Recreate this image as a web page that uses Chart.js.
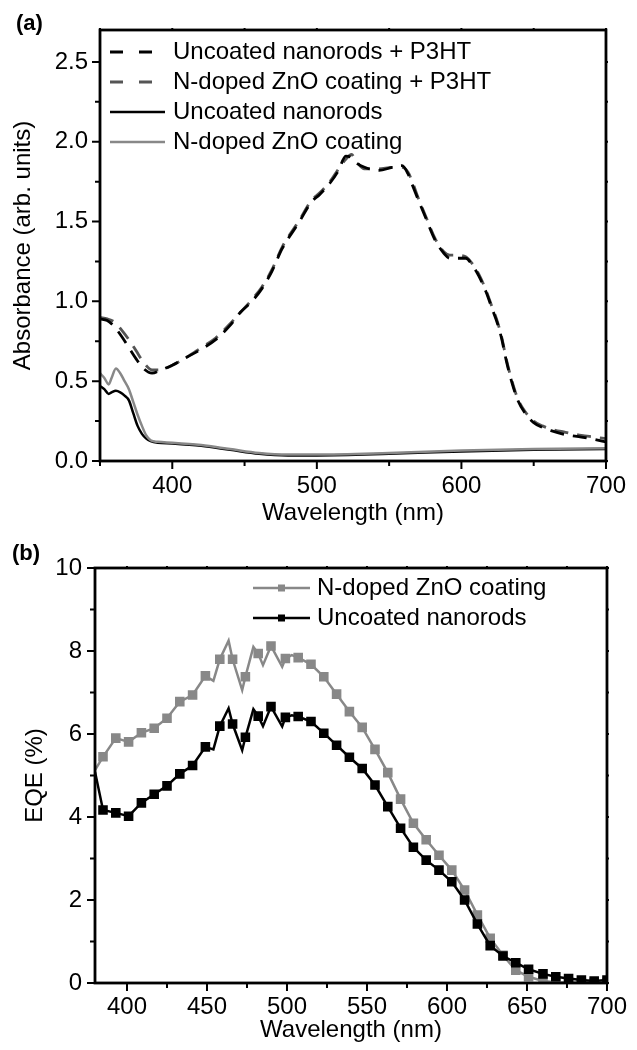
<!DOCTYPE html>
<html>
<head>
<meta charset="utf-8">
<script src="https://cdn.jsdelivr.net/npm/chart.js@4"></script>
<style>
body { margin: 0; background: #fff; font-family: "Liberation Sans", Arial, sans-serif; }
.wrap { position: relative; width: 637px; height: 1050px; }
.panel { position: absolute; left: 0; width: 637px; height: 525px; }
.tag { position: absolute; font-weight: bold; font-size: 22px; color: #000; }
</style>
</head>
<body>
<div class="wrap">
  <div class="panel" style="top:0"><canvas id="absChart" width="637" height="525"></canvas></div>
  <div class="panel" style="top:525px"><canvas id="eqeChart" width="637" height="525"></canvas></div>
  <div class="tag" style="left:16px; top:10px">(a)</div>
  <div class="tag" style="left:12px; top:540px">(b)</div>
</div>
<script>
// (a) absorbance, dashed curves (with P3HT)
const dashWl = [350, 355, 360, 365, 370, 375, 380, 386, 392, 400, 410, 420, 430, 440, 447, 455, 462, 469, 476, 488,
  496, 502, 509, 515, 520, 524, 527, 533, 543, 552, 559, 563, 566, 570, 575, 582, 588, 592, 596, 603,
  608, 612, 617, 621, 625, 628, 631, 635, 639, 644, 650, 656, 662, 672, 683, 692, 700];
const uncoatedP3HT = [0.89, 0.88, 0.84, 0.78, 0.71, 0.64, 0.58, 0.55, 0.57, 0.60, 0.65, 0.70, 0.76, 0.85, 0.93, 1.00, 1.08, 1.19, 1.33, 1.50,
  1.62, 1.67, 1.74, 1.82, 1.91, 1.90, 1.87, 1.84, 1.82, 1.84, 1.85, 1.80, 1.73, 1.64, 1.53, 1.38, 1.30, 1.27, 1.27, 1.27,
  1.22, 1.16, 1.06, 0.96, 0.86, 0.76, 0.63, 0.49, 0.38, 0.30, 0.24, 0.21, 0.19, 0.165, 0.15, 0.135, 0.12];
const dopedP3HT = [0.90, 0.89, 0.87, 0.82, 0.76, 0.69, 0.62, 0.57, 0.57, 0.60, 0.65, 0.71, 0.77, 0.86, 0.93, 1.01, 1.09, 1.20, 1.34, 1.51,
  1.63, 1.68, 1.75, 1.83, 1.89, 1.92, 1.88, 1.83, 1.83, 1.84, 1.84, 1.81, 1.75, 1.65, 1.54, 1.39, 1.31, 1.29, 1.29, 1.28,
  1.23, 1.17, 1.07, 0.97, 0.87, 0.77, 0.64, 0.50, 0.39, 0.31, 0.25, 0.22, 0.20, 0.18, 0.16, 0.15, 0.14];

// (a) absorbance, solid curves (bare)
const solidWl = [350, 353, 356, 358, 361, 364, 367, 370, 373, 376, 379, 382, 385, 390, 400, 420, 440, 460, 480, 500, 550, 600, 650, 700];
const uncoatedAbs = [0.47, 0.45, 0.42, 0.43, 0.44, 0.43, 0.41, 0.38, 0.30, 0.22, 0.17, 0.14, 0.125, 0.115, 0.11, 0.095, 0.07, 0.045, 0.035, 0.035, 0.045, 0.06, 0.07, 0.075];
const dopedAbs = [0.55, 0.52, 0.48, 0.52, 0.58, 0.55, 0.50, 0.45, 0.37, 0.29, 0.22, 0.16, 0.13, 0.12, 0.115, 0.10, 0.075, 0.05, 0.04, 0.04, 0.05, 0.065, 0.075, 0.08];

// (b) EQE
const eqeWl = [380, 385, 393, 401, 409, 417, 425, 433, 441, 449, 454, 458, 463.5, 466, 472, 474, 479, 482, 485, 490,
  497, 499, 503, 507, 515, 523, 531, 539, 547, 555, 563, 571, 579, 587, 595, 603, 611, 619, 627, 635,
  643, 651, 660, 668, 676, 684, 692, 700];
const eqeDoped = [5.13, 5.45, 5.90, 5.81, 6.03, 6.14, 6.38, 6.78, 6.94, 7.40, 7.28, 7.80, 8.25, 7.80, 7.06, 7.38, 8.10, 7.94, 7.66, 8.12,
  7.62, 7.82, 7.90, 7.84, 7.68, 7.38, 6.96, 6.54, 6.16, 5.63, 5.07, 4.43, 3.85, 3.45, 3.08, 2.72, 2.24, 1.64, 1.08, 0.67,
  0.31, 0.15, 0.05, 0.02, 0.01, 0.01, 0.01, 0.02];
const eqeUncoated = [5.09, 4.17, 4.10, 4.02, 4.34, 4.55, 4.75, 5.04, 5.24, 5.69, 5.63, 6.19, 6.62, 6.24, 5.61, 5.92, 6.60, 6.43, 6.19, 6.66,
  6.18, 6.40, 6.45, 6.42, 6.30, 6.02, 5.73, 5.44, 5.17, 4.77, 4.25, 3.73, 3.27, 2.96, 2.72, 2.44, 2.00, 1.42, 0.90, 0.65,
  0.49, 0.33, 0.22, 0.15, 0.11, 0.07, 0.05, 0.07];
// wavelengths that are only line vertices (no square marker)
const eqeNoMarker = [380, 454, 463.5, 472, 479, 485, 497, 503];

const FONT = '"Liberation Sans", Arial, sans-serif';
Chart.defaults.font.family = FONT;
Chart.defaults.font.size = 24;
Chart.defaults.color = '#000';

function pts(xs, ys) {
  return xs.map((x, i) => ({ x: x, y: ys[i] }));
}
function isMajor(v, step) {
  const r = v / step;
  return Math.abs(r - Math.round(r)) < 1e-6;
}

// frame box + outward tick marks (major/minor)
const frame = {
  id: 'frame',
  afterDraw(chart, args, opts) {
    const { ctx, chartArea: a, scales: { x, y } } = chart;
    ctx.save();
    ctx.strokeStyle = '#000';
    ctx.lineWidth = 2;
    ctx.beginPath();
    x.ticks.forEach(t => {
      const px = x.getPixelForValue(t.value);
      const len = isMajor(t.value, opts.xMajor) ? 8 : 5;
      ctx.moveTo(px, a.bottom); ctx.lineTo(px, a.bottom + len);
      ctx.moveTo(px, a.top); ctx.lineTo(px, a.top - 2);
    });
    y.ticks.forEach(t => {
      const py = y.getPixelForValue(t.value);
      const len = isMajor(t.value, opts.yMajor) ? 8 : 5;
      ctx.moveTo(a.left, py); ctx.lineTo(a.left - len, py);
      ctx.moveTo(a.right, py); ctx.lineTo(a.right + 2, py);
    });
    ctx.stroke();
    ctx.lineWidth = 2.8;
    ctx.strokeRect(a.left, a.top, a.right - a.left, a.bottom - a.top);
    ctx.restore();
  }
};

// legend drawn inside the plot
const innerLegend = {
  id: 'innerLegend',
  afterDraw(chart, args, opts) {
    const ctx = chart.ctx;
    ctx.save();
    ctx.font = '24px ' + FONT;
    ctx.textBaseline = 'middle';
    ctx.fillStyle = '#000';
    opts.items.forEach((idx, row) => {
      const ds = chart.data.datasets[idx];
      const yy = opts.y + row * opts.dy;
      ctx.strokeStyle = ds.borderColor;
      ctx.lineWidth = ds.borderWidth;
      ctx.setLineDash(ds.borderDash ? opts.dash : []);
      ctx.beginPath();
      ctx.moveTo(opts.x1, yy);
      ctx.lineTo(opts.x2, yy);
      ctx.stroke();
      ctx.setLineDash([]);
      if (opts.marker) {
        ctx.fillStyle = ds.borderColor;
        ctx.fillRect((opts.x1 + opts.x2) / 2 - 3.5, yy - 3.5, 7, 7);
      }
      ctx.fillStyle = '#000';
      ctx.fillText(ds.label, opts.tx, yy);
    });
    ctx.restore();
  }
};

function axes(o) {
  return {
    x: {
      type: 'linear', min: o.xmin, max: o.xmax,
      afterFit: s => { s.height = o.xh; },
      grid: { display: false, drawTicks: false },
      border: { display: false },
      ticks: {
        stepSize: o.xstep, autoSkip: false, includeBounds: false, maxRotation: 0,
        padding: o.xpad, font: { size: 24 },
        callback: v => isMajor(v, o.xMajor) ? String(v) : ''
      },
      title: { display: true, text: 'Wavelength (nm)', font: { size: 24, lineHeight: 1 }, padding: { top: 0, bottom: o.xtpad } }
    },
    y: {
      type: 'linear', min: o.ymin, max: o.ymax,
      afterFit: s => { s.width = o.yw; },
      grid: { display: false, drawTicks: false },
      border: { display: false },
      ticks: {
        stepSize: o.ystep, autoSkip: false, includeBounds: false,
        padding: o.ypad, font: { size: 24 },
        callback: v => isMajor(v, o.yMajor) ? v.toFixed(o.ydec) : ''
      },
      title: { display: true, text: o.ytitle, font: { size: 24, lineHeight: 1 }, padding: { top: o.ytpad, bottom: 0 } }
    }
  };
}

new Chart(document.getElementById('absChart'), {
  type: 'line',
  data: {
    datasets: [
      { label: 'Uncoated nanorods + P3HT', data: pts(dashWl, uncoatedP3HT), borderColor: '#000', borderWidth: 2.8, borderDash: [14, 9], order: 1 },
      { label: 'N-doped ZnO coating + P3HT', data: pts(dashWl, dopedP3HT), borderColor: '#555', borderWidth: 2.8, borderDash: [14, 9], order: 2 },
      { label: 'Uncoated nanorods', data: pts(solidWl, uncoatedAbs), borderColor: '#000', borderWidth: 2.5, order: 3 },
      { label: 'N-doped ZnO coating', data: pts(solidWl, dopedAbs), borderColor: '#888', borderWidth: 2.5, order: 0 }
    ]
  },
  options: {
    responsive: false,
    animation: false,
    layout: { padding: { top: 30, right: 29, left: 0, bottom: 0 } },
    elements: { point: { radius: 0 }, line: { cubicInterpolationMode: 'monotone', fill: false } },
    scales: axes({
      xmin: 350, xmax: 700, xstep: 50, xMajor: 100, xh: 64, xpad: 11, xtpad: 0,
      ymin: 0, ymax: 2.7, ystep: 0.25, yMajor: 0.5, yw: 100, ypad: 12, ydec: 1,
      ytitle: 'Absorbance (arb. units)', ytpad: 11
    }),
    plugins: {
      legend: { display: false },
      tooltip: { enabled: false },
      frame: { xMajor: 100, yMajor: 0.5 },
      innerLegend: { items: [0, 1, 2, 3], x1: 110, x2: 165, tx: 173, y: 52, dy: 30, dash: [13, 16], marker: false }
    }
  },
  plugins: [frame, innerLegend]
});

const markerRadius = ctx => eqeNoMarker.includes(eqeWl[ctx.dataIndex]) ? 0 : 5;

new Chart(document.getElementById('eqeChart'), {
  type: 'line',
  data: {
    datasets: [
      { label: 'N-doped ZnO coating', data: pts(eqeWl, eqeDoped), borderColor: '#888', backgroundColor: '#888', borderWidth: 2.5, order: 1 },
      { label: 'Uncoated nanorods', data: pts(eqeWl, eqeUncoated), borderColor: '#000', backgroundColor: '#000', borderWidth: 2.5, order: 0 }
    ]
  },
  options: {
    responsive: false,
    animation: false,
    layout: { padding: { top: 43, right: 24, left: 0, bottom: 0 } },
    elements: {
      point: { pointStyle: 'rect', radius: markerRadius, borderWidth: 0 },
      line: { tension: 0, fill: false }
    },
    scales: axes({
      xmin: 380, xmax: 700, xstep: 25, xMajor: 50, xh: 67, xpad: 10, xtpad: 8,
      ymin: 0, ymax: 10, ystep: 1, yMajor: 2, yw: 95, ypad: 13, ydec: 0,
      ytitle: 'EQE (%)', ytpad: 23
    }),
    plugins: {
      legend: { display: false },
      tooltip: { enabled: false },
      frame: { xMajor: 50, yMajor: 2 },
      innerLegend: { items: [0, 1], x1: 253, x2: 310, tx: 317, y: 63, dy: 30, dash: [], marker: true }
    }
  },
  plugins: [frame, innerLegend]
});
</script>
</body>
</html>
